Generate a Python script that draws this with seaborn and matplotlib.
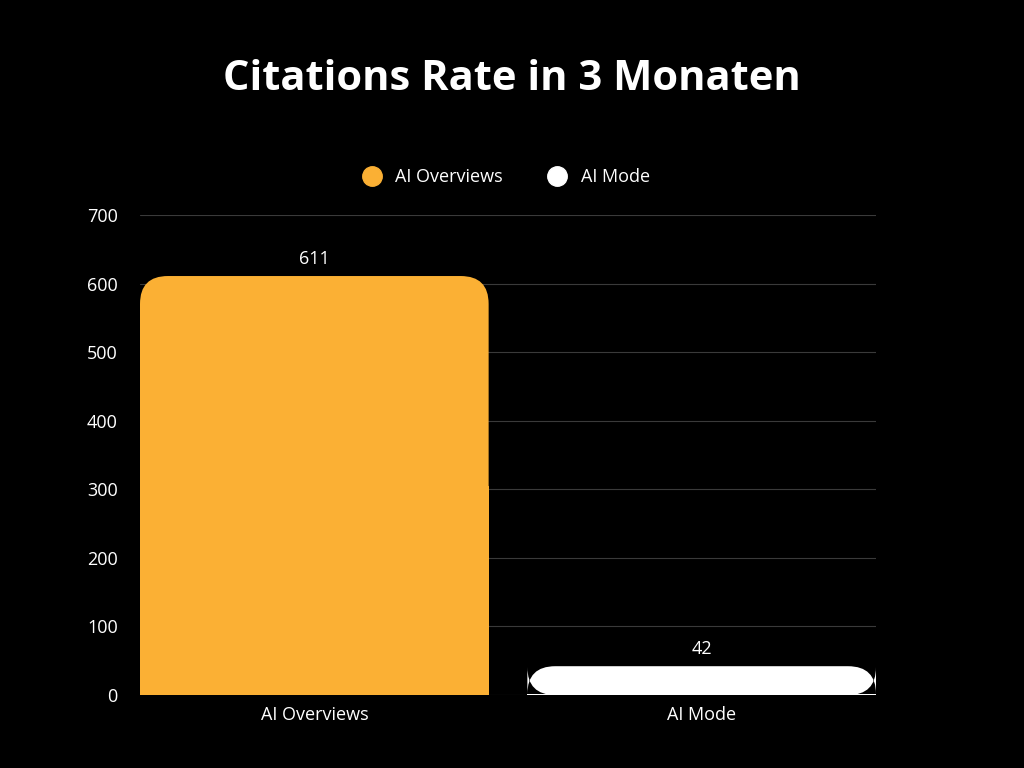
import matplotlib
matplotlib.use("Agg")
import matplotlib.pyplot as plt
import seaborn as sns
import pandas as pd
from matplotlib.patches import FancyBboxPatch, Rectangle
from matplotlib.lines import Line2D

categories = ["AI Overviews", "AI Mode"]
values = [611, 42]
colors = ["#FBB034", "#FFFFFF"]

sns.set_style("dark")
plt.rcParams['font.family'] = ['Open Sans', 'DejaVu Sans']

fig = plt.figure(figsize=(10.24, 7.68), dpi=100, facecolor="black")
ax = fig.add_axes([140/1024, 1-695/768, 736/1024, 480/768], facecolor="black")

df = pd.DataFrame({"cat": categories, "val": values})
sns.barplot(data=df, x="cat", y="val", hue="cat", palette=colors, width=0.9,
            legend=False, ax=ax, zorder=3)

ax.set_xlim(-0.45, 1.45)
ax.set_ylim(0, 700)

# replace plain bars with top-rounded ones
r = 0.072
aspect = 565
for p, c in zip(list(ax.patches), colors):
    x, w, h = p.get_x(), p.get_width(), p.get_height()
    p.set_visible(False)
    ax.add_patch(FancyBboxPatch((x, 0), w, h, boxstyle=f"round,pad=0,rounding_size={r}",
                                mutation_aspect=aspect, fc=c, ec="none", zorder=3))
    ax.add_patch(Rectangle((x, 0), w, min(h / 2, max(h - r * aspect, 0)) if h > r * aspect else h / 2,
                           fc=c, ec="none", zorder=3))
    ax.text(x + w / 2, h + 12, str(h if h != int(h) else int(h)), ha="center", va="bottom",
            color="white", fontsize=13)

ax.set_yticks(range(0, 701, 100))
ax.grid(axis="y", color="#3a3a3a", linewidth=0.8, zorder=0)
ax.grid(axis="x", visible=False)
for s in ax.spines.values():
    s.set_visible(False)
ax.tick_params(colors="white", labelsize=13, length=0, pad=8)
ax.tick_params(axis="y", pad=16)
ax.set_xlabel("")
ax.set_ylabel("")

fig.text(0.5, 1-80/768, "Citations Rate in 3 Monaten", ha="center", va="center",
         color="white", fontsize=30, fontweight="bold")

handles = [Line2D([], [], marker="o", linestyle="", markersize=14, markerfacecolor=c,
                  markeredgecolor=c) for c in colors]
fig.legend(handles, categories, loc="center", bbox_to_anchor=(0.49, 1-177/768), ncol=2,
           frameon=False, labelcolor="white", fontsize=13, handletextpad=0.3, columnspacing=2)

fig.savefig("out.png", facecolor="black")
